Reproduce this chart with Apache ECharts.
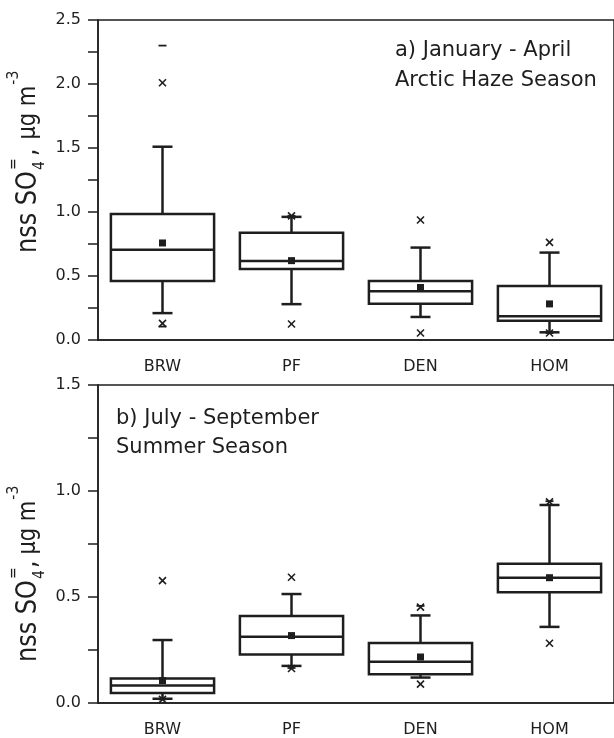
<!DOCTYPE html>
<html>
<head>
<meta charset="utf-8">
<script src="https://cdn.jsdelivr.net/npm/echarts@6/dist/echarts.min.js"></script>
<style>
  html, body { margin: 0; padding: 0; background: #fff; }
  #chart { width: 614px; height: 738px; }
</style>
</head>
<body>
<div id="chart"></div>
<script>
// Stations
const categories = ['BRW', 'PF', 'DEN', 'HOM'];

// a) January - April, Arctic haze season (nss sulfate, µg m-3)
const aWhiskerLow  = [0.21, 0.28, 0.18, 0.06];
const aQ1          = [0.46, 0.555, 0.283, 0.15];
const aMedian      = [0.705, 0.617, 0.38, 0.185];
const aQ3          = [0.984, 0.838, 0.46, 0.422];
const aWhiskerHigh = [1.51, 0.962, 0.722, 0.683];
const aMean        = [0.758, 0.62, 0.41, 0.282];
const aP1          = [0.13, 0.125, 0.055, 0.055];
const aP99         = [2.01, 0.97, 0.9375, 0.763];
const aMin         = [0.105, null, null, 0.055];
const aMax         = [2.30, 0.97, null, null];

// b) July - September, summer season
const bWhiskerLow  = [0.02, 0.175, 0.12, 0.359];
const bQ1          = [0.047, 0.229, 0.136, 0.522];
const bMedian      = [0.083, 0.313, 0.195, 0.591];
const bQ3          = [0.116, 0.41, 0.283, 0.657];
const bWhiskerHigh = [0.297, 0.514, 0.413, 0.934];
const bMean        = [0.106, 0.318, 0.217, 0.591];
const bP1          = [0.017, 0.163, 0.089, 0.282];
const bP99         = [0.577, 0.593, 0.452, 0.949];
const bMin         = [0.017, 0.165, null, null];
const bMax         = [null, null, 0.458, 0.952];

const FONT = '"DejaVu Sans", sans-serif';
const INK = '#1e1e1e';

const statsA = { lo: aWhiskerLow, q1: aQ1, med: aMedian, q3: aQ3, hi: aWhiskerHigh, mean: aMean, p1: aP1, p99: aP99, min: aMin, max: aMax };
const statsB = { lo: bWhiskerLow, q1: bQ1, med: bMedian, q3: bQ3, hi: bWhiskerHigh, mean: bMean, p1: bP1, p99: bP99, min: bMin, max: bMax };

// Box, whiskers, caps, mean square, 1%/99% crosses and min/max dashes
function boxRenderer(s) {
  return function (params, api) {
    const i = params.dataIndex;
    const x = api.coord([i, 0])[0];
    const band = api.size([1, 0])[0];
    const half = band * 0.4;
    const cap = 10;
    const y = v => api.coord([i, v])[1];
    const heavy = { stroke: INK, lineWidth: 2.5, fill: null };
    const kids = [];
    const line = (x1, y1, x2, y2, st) => kids.push({ type: 'line', shape: { x1, y1, x2, y2 }, style: st });

    // whiskers
    line(x, y(s.q3[i]), x, y(s.hi[i]), heavy);
    line(x, y(s.q1[i]), x, y(s.lo[i]), heavy);
    line(x - cap, y(s.hi[i]), x + cap, y(s.hi[i]), heavy);
    line(x - cap, y(s.lo[i]), x + cap, y(s.lo[i]), heavy);
    // box
    kids.push({ type: 'rect', shape: { x: x - half, y: y(s.q3[i]), width: 2 * half, height: y(s.q1[i]) - y(s.q3[i]) }, style: heavy });
    // median
    line(x - half, y(s.med[i]), x + half, y(s.med[i]), heavy);
    // mean
    const m = 3.5;
    kids.push({ type: 'rect', shape: { x: x - m, y: y(s.mean[i]) - m, width: 2 * m, height: 2 * m }, style: { fill: INK } });
    // 1% and 99% crosses
    const thin = { stroke: INK, lineWidth: 1.6 };
    [s.p1[i], s.p99[i]].forEach(v => {
      if (v == null) return;
      const c = 3.5, yy = y(v);
      line(x - c, yy - c, x + c, yy + c, thin);
      line(x - c, yy + c, x + c, yy - c, thin);
    });
    // min / max dashes
    [s.min[i], s.max[i]].forEach(v => {
      if (v == null) return;
      line(x - 4, y(v), x + 4, y(v), { stroke: INK, lineWidth: 1.8 });
    });
    return { type: 'group', children: kids };
  };
}

// Text measurement for the rotated axis title
const mctx = document.createElement('canvas').getContext('2d');
function textWidth(t, size) {
  mctx.font = size + 'px ' + FONT;
  return mctx.measureText(t).width;
}

function yTitle(x0, y0, gapComma, gapUnit) {
  const main = 24, unit = 21, small = 14;
  const kids = [];
  const add = (t, size, dx, dy) => kids.push({
    type: 'text', x: dx, y: dy,
    style: { text: t, font: size + 'px ' + FONT, fill: INK, align: 'left', verticalAlign: 'middle' }
  });
  let p = 0;
  add('nss SO', main, 0, 0);
  p = textWidth('nss SO', main) + 1;
  add('4', small, p, 9);
  add('=', small, p, -13);
  p += textWidth('4', small) + gapComma;
  add(',', main, p, 0);
  p += textWidth(',', main) + gapUnit;
  add('µg m', unit, p, 0);
  p += textWidth('µg m', unit) + 1;
  add('-3', small, p, -13);
  return { type: 'group', x: x0, y: y0, rotation: Math.PI / 2, scaleY: 1.15, children: kids };
}

function annotation(x, y, t) {
  return { type: 'text', x, y, style: { text: t, font: '21px ' + FONT, fill: INK, align: 'left', verticalAlign: 'middle' } };
}

const axisLineStyle = { color: INK, width: 1.5 };

function xAxisFor(gridIndex) {
  return {
    gridIndex, type: 'category', data: categories,
    axisLine: { lineStyle: axisLineStyle },
    axisTick: { alignWithLabel: true, length: 10, lineStyle: axisLineStyle },
    axisLabel: { margin: 19, fontSize: 16, fontFamily: FONT, color: INK },
    splitLine: { show: false }
  };
}

function yAxisFor(gridIndex, max) {
  return {
    gridIndex, type: 'value', min: 0, max, interval: 0.5,
    axisLine: { show: true, lineStyle: axisLineStyle },
    axisTick: { show: true, length: 10, lineStyle: axisLineStyle },
    minorTick: { show: true, splitNumber: 2, length: 10, lineStyle: axisLineStyle },
    axisLabel: { margin: 17, fontSize: 16, fontFamily: FONT, color: INK, formatter: v => v.toFixed(1) },
    splitLine: { show: false }
  };
}

const chart = echarts.init(document.getElementById('chart'), null, { renderer: 'canvas' });
chart.setOption({
  animation: false,
  backgroundColor: '#fff',
  grid: [
    { left: 98, top: 20, width: 523, height: 320, show: true, borderColor: INK, borderWidth: 1.5, backgroundColor: 'transparent' },
    { left: 98, top: 385, width: 523, height: 321, show: true, borderColor: INK, borderWidth: 1.5, backgroundColor: 'transparent' }
  ],
  xAxis: [xAxisFor(0), xAxisFor(1)],
  yAxis: [yAxisFor(0, 2.5), yAxisFor(1, 1.5)],
  series: [
    {
      type: 'custom', xAxisIndex: 0, yAxisIndex: 0, clip: false,
      data: categories.map((c, i) => [i, aMedian[i]]),
      encode: { x: 0, y: 1 },
      renderItem: boxRenderer(statsA)
    },
    {
      type: 'custom', xAxisIndex: 1, yAxisIndex: 1, clip: false,
      data: categories.map((c, i) => [i, bMedian[i]]),
      encode: { x: 0, y: 1 },
      renderItem: boxRenderer(statsB)
    }
  ],
  graphic: [
    yTitle(29, 253, 5, 9),
    yTitle(29, 662, 2, 6),
    annotation(395, 51, 'a) January - April'),
    annotation(395, 81, 'Arctic Haze Season'),
    annotation(116, 419, 'b) July - September'),
    annotation(116, 448, 'Summer Season')
  ]
});
</script>
</body>
</html>
